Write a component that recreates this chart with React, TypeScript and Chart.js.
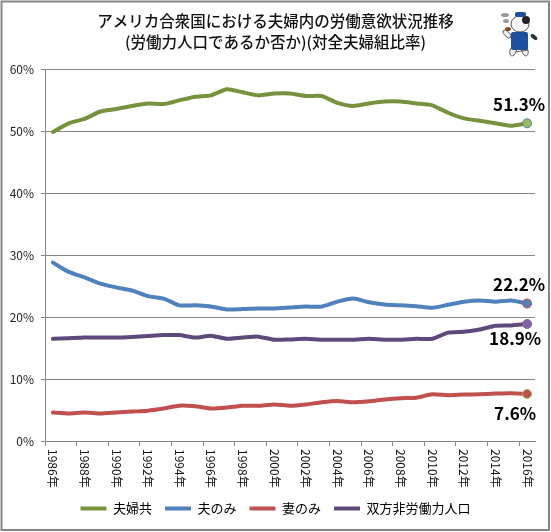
import React, { useEffect, useRef } from 'react';
import { Chart, registerables } from 'chart.js';

Chart.register(...registerables);

const FONT = '"Noto Sans CJK JP", "Noto Sans", sans-serif';
const GRAY = '#868686';

const years = [
  '1986年', '1987年', '1988年', '1989年', '1990年', '1991年', '1992年', '1993年', '1994年', '1995年', '1996年',
  '1997年', '1998年', '1999年', '2000年', '2001年', '2002年', '2003年', '2004年', '2005年', '2006年',
  '2007年', '2008年', '2009年', '2010年', '2011年', '2012年', '2013年', '2014年', '2015年', '2016年',
];

const both = [
  49.9, 51.3, 52.0, 53.2, 53.6, 54.1, 54.5, 54.4, 55.0, 55.6, 55.8, 56.8, 56.3, 55.8, 56.1, 56.1,
  55.7, 55.7, 54.6, 54.1, 54.5, 54.8, 54.8, 54.5, 54.2, 53.0, 52.1, 51.7, 51.3, 50.9, 51.3,
];
const husbandOnly = [
  28.8, 27.3, 26.4, 25.4, 24.8, 24.3, 23.4, 23.0, 21.9, 21.9, 21.7, 21.25, 21.3, 21.4, 21.4, 21.55,
  21.7, 21.7, 22.5, 23.0, 22.4, 22.05, 21.9, 21.75, 21.5, 22.0, 22.5, 22.7, 22.5, 22.7, 22.2,
];
const wifeOnly = [
  4.6, 4.45, 4.6, 4.45, 4.6, 4.75, 4.9, 5.25, 5.7, 5.6, 5.25, 5.4, 5.7, 5.7, 5.9, 5.7,
  5.9, 6.25, 6.45, 6.25, 6.4, 6.7, 6.9, 7.0, 7.55, 7.4, 7.5, 7.55, 7.65, 7.7, 7.6,
];
const neither = [
  16.5, 16.6, 16.7, 16.7, 16.7, 16.8, 16.95, 17.1, 17.1, 16.7, 17.0, 16.5, 16.7, 16.85, 16.35, 16.4,
  16.5, 16.35, 16.35, 16.35, 16.5, 16.35, 16.35, 16.5, 16.5, 17.5, 17.65, 18.0, 18.6, 18.65, 18.9,
];

const seriesNames = ['夫婦共', '夫のみ', '妻のみ', '双方非労働力人口'];
const titleLines = ['アメリカ合衆国における夫婦内の労働意欲状況推移', '(労働力人口であるか否か)(対全夫婦組比率)'];
const endLabels = ['51.3%', '22.2%', '7.6%', '18.9%'];

// dataset index -> offset of the end label from the last point
const endLabelOffsets = [
  { dx: -8, dy: -19 },
  { dx: -8, dy: -19 },
  { dx: -12, dy: 20 },
  { dx: -12, dy: 15 },
];

const lastIndex = years.length - 1;

function lineDataset(label: string, data: number[], color: string, dot: string, dotBorder: string) {
  return {
    label,
    data,
    borderColor: color,
    backgroundColor: color,
    borderWidth: 4,
    tension: 0.2,
    borderCapStyle: 'round' as const,
    pointRadius: (c: any) => (c.dataIndex === lastIndex ? 4.5 : 0),
    pointBackgroundColor: dot,
    pointBorderColor: dotBorder,
    pointBorderWidth: 1,
    pointHoverRadius: 0,
  };
}

// 外枠
const framePlugin = {
  id: 'frame',
  beforeDraw(chart: any) {
    const { ctx, width, height } = chart;
    ctx.save();
    ctx.fillStyle = '#fff';
    ctx.fillRect(0, 0, width, height);
    ctx.strokeStyle = GRAY;
    ctx.lineWidth = 2;
    ctx.strokeRect(1.5, 1.5, 547.5, 528.5);
    ctx.restore();
  },
};

// x軸ラベルは上から下へ読む向き(Chart.jsの回転では揃わないので自前で描く)
const xLabelPlugin = {
  id: 'xLabels',
  afterDraw(chart: any) {
    const { ctx, scales } = chart;
    const x = scales.x;
    ctx.save();
    ctx.font = `12px ${FONT}`;
    ctx.fillStyle = '#111';
    ctx.textAlign = 'left';
    ctx.textBaseline = 'middle';
    years.forEach((year, i) => {
      if (i % 2) return;
      ctx.save();
      ctx.translate(x.getPixelForValue(i), x.top + 8);
      ctx.rotate(Math.PI / 2);
      ctx.fillText(year, 0, 0);
      ctx.restore();
    });
    ctx.restore();
  },
};

const endLabelPlugin = {
  id: 'endLabels',
  afterDatasetsDraw(chart: any) {
    const { ctx } = chart;
    ctx.save();
    ctx.font = `bold 17px ${FONT}`;
    ctx.fillStyle = '#000';
    ctx.textAlign = 'center';
    ctx.textBaseline = 'middle';
    endLabels.forEach((text, i) => {
      const pt = chart.getDatasetMeta(i).data[lastIndex];
      ctx.fillText(text, pt.x + endLabelOffsets[i].dx, pt.y + endLabelOffsets[i].dy);
    });
    ctx.restore();
  },
};

// 右上のマスコット(簡略)
const mascotPlugin = {
  id: 'mascot',
  afterDraw(chart: any) {
    const { ctx } = chart;
    const fill = (color: string, draw: () => void) => {
      ctx.fillStyle = color;
      ctx.beginPath();
      draw();
      ctx.fill();
    };
    ctx.save();
    ctx.translate(500, 10);
    ctx.strokeStyle = '#333';
    ctx.lineWidth = 0.8;
    fill('#f4f4f4', () => { ctx.ellipse(13, 41, 3, 5, 0.3, 0, 7); ctx.ellipse(25, 41, 3, 5, -0.3, 0, 7); });
    ctx.stroke();
    fill('#1f4f9f', () => ctx.roundRect(11, 22, 17, 18, 2));
    fill('#f4f4f4', () => ctx.ellipse(7, 24, 2.5, 5, -0.8, 0, 7));
    ctx.stroke();
    fill('#333', () => ctx.ellipse(34, 27, 4, 2, 0.7, 0, 7));
    fill('#f4f4f4', () => ctx.ellipse(20, 14, 9, 8, 0, 0, 7));
    ctx.stroke();
    fill('#222', () => ctx.ellipse(26, 10, 4, 4, 0, 0, 7));
    fill('#1f4f9f', () => ctx.roundRect(15, 2, 11, 5, 2));
    fill('#8a4b1c', () => ctx.ellipse(8, 19, 3, 2, 0, 0, 7));
    fill('#999', () => ctx.ellipse(5, 5, 4, 2, 0, 0, 7));
    fill('#999', () => ctx.ellipse(6, 11, 3, 2, 0, 0, 7));
    ctx.restore();
  },
};

export default function App() {
  const canvasRef = useRef<HTMLCanvasElement | null>(null);

  useEffect(() => {
    document.body.style.margin = '0';
    const canvas = canvasRef.current;
    if (!canvas) return;

    const chart = new Chart(canvas, {
      type: 'line',
      data: {
        labels: years,
        datasets: [
          lineDataset(seriesNames[0], both, '#76923C', '#9BBB59', '#4F81BD'),
          lineDataset(seriesNames[1], husbandOnly, '#4F81BD', '#4F81BD', '#C0504D'),
          lineDataset(seriesNames[2], wifeOnly, '#C0504D', '#C0504D', '#9BBB59'),
          lineDataset(seriesNames[3], neither, '#5F497A', '#8064A2', '#8064A2'),
        ],
      },
      options: {
        responsive: false,
        animation: false,
        devicePixelRatio: 1,
        layout: { padding: { bottom: 7 } },
        plugins: {
          tooltip: { enabled: false },
          title: {
            display: true,
            text: titleLines,
            color: '#111',
            font: { family: FONT, size: 15.5, weight: '500', lineHeight: 1.4 },
            padding: { top: 10, bottom: 16 },
          },
          legend: {
            position: 'bottom',
            labels: {
              boxWidth: 26,
              boxHeight: 4,
              padding: 13,
              color: '#111',
              font: { family: FONT, size: 13 },
              generateLabels: (c: any) =>
                c.data.datasets.map((d: any, i: number) => ({
                  text: d.label,
                  fillStyle: d.borderColor,
                  strokeStyle: d.borderColor,
                  lineWidth: 0,
                  datasetIndex: i,
                })),
            },
          },
        },
        scales: {
          x: {
            offset: true,
            afterFit: (s: any) => { s.height = 48; },
            border: { color: GRAY },
            grid: {
              offset: true,
              drawOnChartArea: false,
              tickLength: 5,
              tickColor: (c: any) => (c.index !== undefined && c.index % 2 === 0 ? GRAY : 'transparent'),
            },
            ticks: { display: false, autoSkip: false },
          },
          y: {
            min: 0,
            max: 60,
            afterFit: (s: any) => { s.width = 45; },
            border: { color: GRAY },
            grid: { color: GRAY, tickLength: 4 },
            ticks: {
              stepSize: 10,
              padding: 7,
              color: '#222',
              font: { family: FONT, size: 12 },
              callback: (v: any) => `${v}%`,
            },
          },
          // 右余白用の空軸(タイトルと凡例をキャンバス中央に保つ)
          spacer: {
            position: 'right',
            afterFit: (s: any) => { s.width = 16; },
            border: { display: false },
            grid: { display: false },
            ticks: { display: false },
          },
        },
      },
      plugins: [framePlugin, xLabelPlugin, endLabelPlugin, mascotPlugin],
    } as any);

    return () => chart.destroy();
  }, []);

  return <canvas ref={canvasRef} width={551} height={532} style={{ display: 'block' }} />;
}
